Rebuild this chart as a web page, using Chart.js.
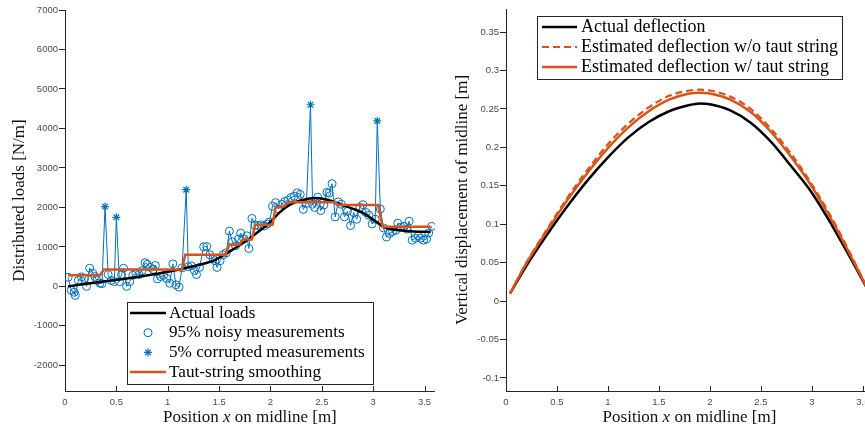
<!DOCTYPE html>
<html>
<head>
<meta charset="utf-8">
<script src="https://cdn.jsdelivr.net/npm/chart.js@4/dist/chart.umd.min.js"></script>
<style>
  html, body { margin: 0; padding: 0; background: #fff; overflow: hidden; }
  .pane { position: absolute; top: 0; height: 427px; }
</style>
</head>
<body>
<div class="pane" style="left:0;width:440px"><canvas id="loadChart" width="440" height="427"></canvas></div>
<div class="pane" style="left:440px;width:440px"><canvas id="deflChart" width="440" height="427"></canvas></div>
<script>
// ---- left panel: distributed loads ----
const noisyX = [0.03,0.06,0.09,0.10,0.13,0.16,0.19,0.21,0.24,0.27,
  0.29,0.31,0.34,0.36,0.42,0.45,0.48,0.53,0.55,0.57,
  0.60,0.63,0.66,0.69,0.72,0.75,0.78,0.80,0.83,0.86,
  0.88,0.90,0.93,0.96,0.99,1.02,1.05,1.08,1.11,1.14,
  1.20,1.23,1.26,1.28,1.31,1.35,1.38,1.41,1.44,1.46,
  1.48,1.51,1.54,1.57,1.60,1.63,1.66,1.69,1.71,1.74,
  1.77,1.79,1.82,1.85,1.88,1.91,1.94,1.97,1.99,2.02,
  2.05,2.08,2.11,2.14,2.17,2.20,2.23,2.26,2.29,2.32,
  2.35,2.41,2.43,2.46,2.49,2.52,2.55,2.57,2.60,2.63,
  2.66,2.69,2.72,2.75,2.78,2.81,2.84,2.87,2.90,2.93,
  2.96,2.99,3.02,3.07,3.10,3.13,3.16,3.19,3.22,3.24,
  3.27,3.30,3.33,3.35,3.38,3.41,3.44,3.46,3.49,3.52,
  3.54,3.57];
const noisyY = [230,-100,-150,-230,150,240,200,0,460,330,
  250,150,80,70,300,150,120,120,300,460,
  0,120,280,320,300,400,600,560,480,430,
  530,190,250,280,200,80,570,40,-20,470,
  500,520,400,300,480,1000,1010,800,700,650,
  480,650,800,850,1400,1130,1030,1200,1350,1200,
  1280,960,1720,1550,1540,1560,1530,1580,1630,2030,
  2120,1960,2080,2150,2180,2250,2280,2370,2330,1950,
  2100,2080,2000,2260,1920,2060,2380,2360,2600,1760,
  2140,2080,1760,1900,1540,1870,1700,2000,2070,1870,
  1800,1580,1700,1960,1480,1250,1340,1390,1420,1600,
  1500,1520,1450,1650,1170,1220,1280,1220,1170,1200,
  1350,1520];
const corruptX = [0.39, 0.50, 1.18, 2.39, 3.04];
const corruptY = [2020, 1750, 2450, 4600, 4190];
const actualX = [0.03,0.3,0.6,0.9,1.1,1.3,1.45,1.6,1.7,1.8,1.9,2.0,2.1,2.2,2.3,2.45,2.6,2.7,2.8,2.9,3.0,3.1,3.2,3.3,3.4,3.56];
const actualY = [0,100,200,320,420,540,660,880,1040,1220,1420,1630,1900,2080,2180,2240,2160,2060,1970,1860,1690,1510,1440,1410,1390,1380];
const tautX = [0.03,0.34,0.38,1.14,1.17,1.56,1.60,1.70,1.73,1.82,1.85,2.02,2.05,2.13,2.17,2.63,2.66,3.05,3.09,3.56];
const tautY = [280,280,430,430,800,800,1060,1060,1190,1190,1560,1560,2000,2020,2130,2130,2060,2060,1510,1510];
const loadTicksX = [0,0.5,1,1.5,2,2.5,3,3.5];
const loadTicksY = [-2000,-1000,0,1000,2000,3000,4000,5000,6000,7000];

// ---- right panel: deflection ----
const deflX = [0.04,0.2,0.4,0.6,0.8,1.0,1.2,1.4,1.6,1.8,1.9,2.0,2.2,2.4,2.6,2.8,3.0,3.2,3.4,3.56];
const deflActual = [0.010,0.046,0.086,0.123,0.157,0.187,0.213,0.233,0.247,0.255,0.257,0.256,0.248,0.232,0.207,0.175,0.141,0.098,0.051,0.012];
const deflNoTaut = [0.010,0.050,0.093,0.134,0.171,0.204,0.231,0.252,0.267,0.274,0.275,0.274,0.266,0.250,0.224,0.191,0.152,0.107,0.056,0.012];
const deflTaut = [0.010,0.049,0.091,0.131,0.167,0.199,0.226,0.247,0.262,0.270,0.271,0.270,0.262,0.246,0.220,0.187,0.149,0.104,0.054,0.012];
const deflTicksX = [0,0.5,1,1.5,2,2.5,3,3.5];
const deflTicksY = [-0.1,-0.05,0,0.05,0.1,0.15,0.2,0.25,0.3,0.35];

const BLUE = '#0072BD', ORANGE = '#D95319', AXIS = '#262626';
const pts = (xs, ys) => xs.map((x, i) => ({ x: x, y: ys[i] }));

Chart.defaults.font.family = '"Liberation Sans", Arial, sans-serif';
Chart.defaults.font.size = 9.5;
Chart.defaults.color = '#4a4a4a';

// legend drawn as a framed box inside the plot, like matlab
const boxLegend = {
  id: 'boxLegend',
  afterDraw(chart, args, o) {
    const ctx = chart.ctx;
    const items = chart.data.datasets.filter(d => d.label);
    ctx.save();
    ctx.fillStyle = '#fff';
    ctx.fillRect(o.x, o.y, o.w, o.h);
    ctx.strokeStyle = AXIS;
    ctx.lineWidth = 1;
    ctx.strokeRect(o.x + 0.5, o.y + 0.5, o.w, o.h);
    ctx.font = o.size + 'px "Liberation Serif", serif';
    ctx.textBaseline = 'middle';
    items.forEach((d, i) => {
      const y = o.y + o.first + i * o.row;
      ctx.save();
      ctx.strokeStyle = d.borderColor;
      if (d.showLine === false) {
        ctx.fillStyle = 'rgba(0,0,0,0)';
        ctx.lineWidth = d.borderWidth;
        Chart.helpers.drawPoint(ctx, { pointStyle: d.pointStyle, radius: d.pointRadius, borderWidth: d.borderWidth, rotation: 0 }, (o.x0 + o.x1) / 2, y);
      } else {
        ctx.lineWidth = d.borderWidth;
        ctx.setLineDash(d.borderDash || []);
        ctx.beginPath();
        ctx.moveTo(o.x0, y);
        ctx.lineTo(o.x1, y);
        ctx.stroke();
      }
      ctx.restore();
      ctx.fillStyle = '#000';
      ctx.fillText(d.label, o.tx, y);
    });
    ctx.restore();
  }
};

// axis titles (serif, italic x) + inward ticks on the x axis
const axisDeco = {
  id: 'axisDeco',
  afterDraw(chart, args, o) {
    const ctx = chart.ctx, a = chart.chartArea, sx = chart.scales.x;
    ctx.save();
    ctx.strokeStyle = AXIS;
    ctx.lineWidth = 1;
    sx.ticks.forEach(t => {
      const px = Math.round(sx.getPixelForValue(t.value)) + 0.5;
      ctx.beginPath();
      ctx.moveTo(px, a.bottom);
      ctx.lineTo(px, a.bottom - 5);
      ctx.stroke();
    });
    ctx.fillStyle = '#111';
    ctx.textBaseline = 'alphabetic';
    const parts = [['Position ', ''], ['x', 'italic '], [' on midline [m]', '']];
    let total = 0;
    parts.forEach(p => { ctx.font = p[1] + '17px "Liberation Serif", serif'; total += ctx.measureText(p[0]).width; });
    let cx = (a.left + a.right) / 2 - total / 2;
    parts.forEach(p => {
      ctx.font = p[1] + '17px "Liberation Serif", serif';
      ctx.fillText(p[0], cx, o.xTitleY);
      cx += ctx.measureText(p[0]).width;
    });
    ctx.translate(o.yTitleX, (a.top + a.bottom) / 2);
    ctx.rotate(-Math.PI / 2);
    ctx.textAlign = 'center';
    ctx.font = '17px "Liberation Serif", serif';
    ctx.fillText(o.yTitle, 0, 0);
    ctx.restore();
  }
};

function makeScales(ticksX, ticksY, xmin, xmax, ymin, ymax, yw) {
  return {
    x: {
      type: 'linear', min: xmin, max: xmax,
      afterBuildTicks: s => { s.ticks = ticksX.map(v => ({ value: v })); },
      afterFit: s => { s.height = 36; },
      ticks: { callback: v => String(v), padding: 6, maxRotation: 0 },
      grid: { display: true, drawOnChartArea: false, drawTicks: false },
      border: { color: AXIS, width: 1 }
    },
    y: {
      min: ymin, max: ymax,
      afterBuildTicks: s => { s.ticks = ticksY.map(v => ({ value: v })); },
      afterFit: s => { s.width = yw; },
      ticks: { callback: v => String(v), padding: 1 },
      grid: { drawOnChartArea: false, drawTicks: true, tickLength: 6, color: AXIS },
      border: { color: AXIS, width: 1 }
    }
  };
}

// blue line joins every measurement, corrupted ones included
const allMeas = pts(noisyX, noisyY).concat(pts(corruptX, corruptY)).sort((p, q) => p.x - q.x);

new Chart(document.getElementById('loadChart'), {
  type: 'line',
  data: {
    datasets: [
      { label: 'Actual loads', data: pts(actualX, actualY), borderColor: '#000', borderWidth: 2.5, pointRadius: 0, cubicInterpolationMode: 'monotone', order: 1 },
      { label: '95% noisy measurements', data: pts(noisyX, noisyY), showLine: false, pointStyle: 'circle', pointRadius: 4, borderColor: BLUE, backgroundColor: 'rgba(0,0,0,0)', borderWidth: 1, order: 3 },
      { label: '5% corrupted measurements', data: pts(corruptX, corruptY), showLine: false, pointStyle: 'star', pointRadius: 4, borderColor: BLUE, backgroundColor: BLUE, borderWidth: 1.2, order: 2 },
      { label: 'Taut-string smoothing', data: pts(tautX, tautY), borderColor: ORANGE, borderWidth: 2.5, pointRadius: 0, tension: 0, order: 0 },
      { data: allMeas, borderColor: BLUE, borderWidth: 1, pointRadius: 0, tension: 0, order: 4 }
    ]
  },
  options: {
    responsive: false, animation: false, devicePixelRatio: 1,
    layout: { padding: { top: 10, right: 5, left: 0, bottom: 0 } },
    scales: makeScales(loadTicksX, loadTicksY, 0, 3.6, -2650, 7000, 65),
    plugins: {
      legend: { display: false }, tooltip: { enabled: false },
      boxLegend: { x: 127, y: 302, w: 246, h: 82, first: 11, row: 19.7, x0: 130, x1: 166, tx: 169, size: 17.2 },
      axisDeco: { xTitleY: 422, yTitleX: 24, yTitle: 'Distributed loads [N/m]' }
    }
  },
  plugins: [boxLegend, axisDeco]
});

new Chart(document.getElementById('deflChart'), {
  type: 'line',
  data: {
    datasets: [
      { label: 'Actual deflection', data: pts(deflX, deflActual), borderColor: '#000', borderWidth: 2.5, pointRadius: 0, cubicInterpolationMode: 'monotone', order: 2 },
      { label: 'Estimated deflection w/o taut string', data: pts(deflX, deflNoTaut), borderColor: ORANGE, borderWidth: 2.2, borderDash: [7, 4], pointRadius: 0, cubicInterpolationMode: 'monotone', order: 1 },
      { label: 'Estimated deflection w/ taut string', data: pts(deflX, deflTaut), borderColor: ORANGE, borderWidth: 2.5, pointRadius: 0, cubicInterpolationMode: 'monotone', order: 0 }
    ]
  },
  options: {
    responsive: false, animation: false, devicePixelRatio: 1,
    layout: { padding: { top: 9, right: 7, left: 0, bottom: 0 } },
    scales: makeScales(deflTicksX, deflTicksY, 0, 3.6, -0.117, 0.38, 66),
    plugins: {
      legend: { display: false }, tooltip: { enabled: false },
      boxLegend: { x: 97, y: 16, w: 305, h: 63, first: 11, row: 20, x0: 102, x1: 137, tx: 141, size: 18 },
      axisDeco: { xTitleY: 422, yTitleX: 27, yTitle: 'Vertical displacement of midline [m]' }
    }
  },
  plugins: [boxLegend, axisDeco]
});
</script>
</body>
</html>
